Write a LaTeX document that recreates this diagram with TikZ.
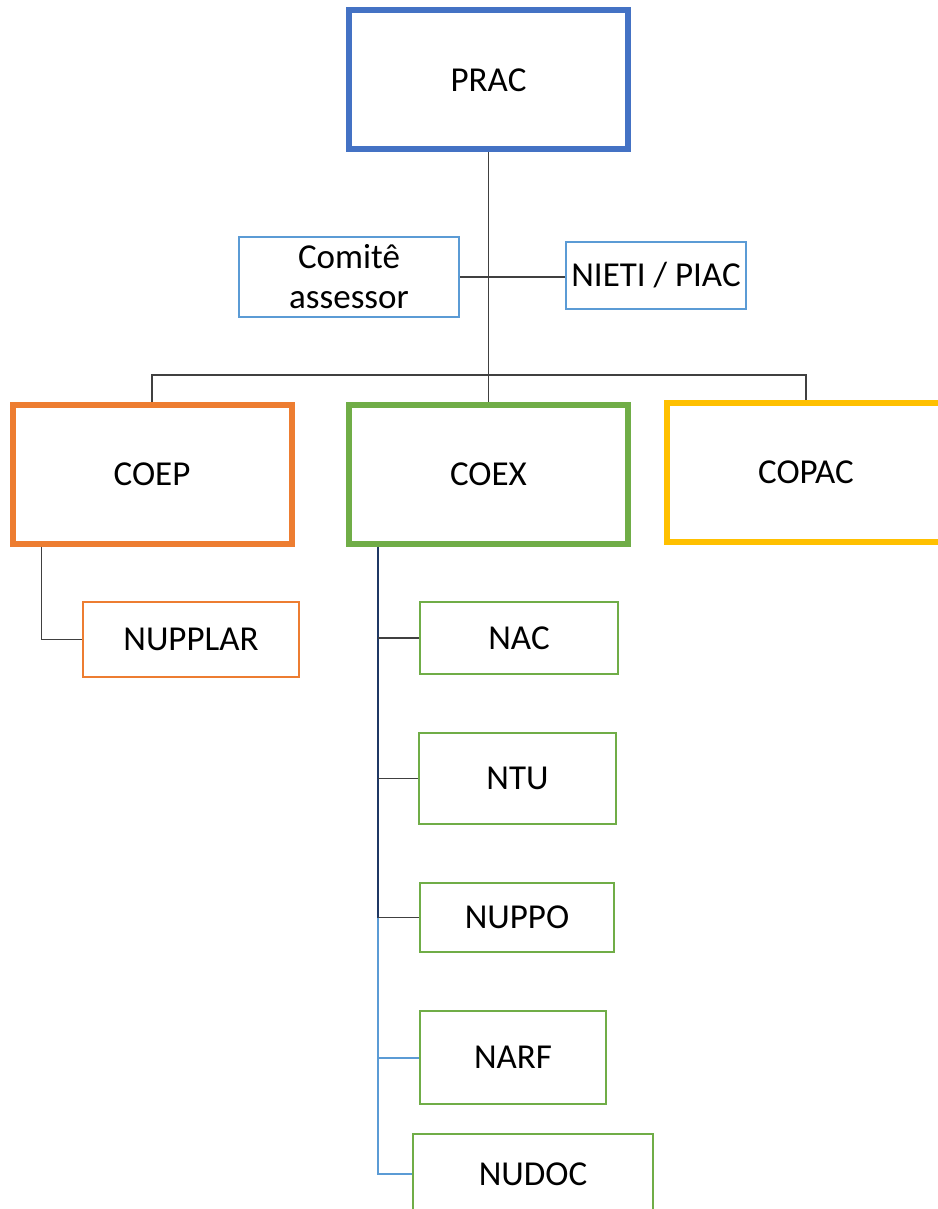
\documentclass[tikz,border=0pt]{standalone}
\usepackage{fontspec}
\setmainfont{Carlito}
\definecolor{pracblue}{HTML}{4472C4}
\definecolor{lightblue}{HTML}{5B9BD5}
\definecolor{coeporange}{HTML}{ED7D31}
\definecolor{coexgreen}{HTML}{70AD47}
\definecolor{copacyellow}{HTML}{FFC000}
\definecolor{navyline}{HTML}{1F3864}
\definecolor{linkgray}{HTML}{404040}
\begin{document}
\begin{tikzpicture}[x=1pt, y=-1pt,
    unit/.style={draw, rectangle, inner sep=0pt, align=center,
      font=\fontsize{35}{40}\selectfont},
    bigunit/.style={unit, line width=6pt, minimum width=279pt, minimum height=139pt},
    smallunit/.style={unit, line width=2pt},
    link/.style={draw=linkgray, line width=1.3pt}]
        \useasboundingbox (0, 0) rectangle (937, 1209);
        \node[bigunit, draw=pracblue] (PRAC) at (488.5, 80) {PRAC};
        \node[smallunit, draw=lightblue, minimum width=220pt, minimum height=80pt] (Comite) at (349, 277) {Comitê\\assessor};
        \node[smallunit, draw=lightblue, minimum width=180pt, minimum height=67pt] (NIETI) at (656, 275.5) {NIETI / PIAC};
        \node[bigunit, draw=coeporange] (COEP) at (152, 474) {COEP};
        \node[bigunit, draw=coexgreen] (COEX) at (488.5, 474) {COEX};
        \node[bigunit, draw=copacyellow] (COPAC) at (806, 472) {COPAC};
        \node[smallunit, draw=coeporange, minimum width=216pt, minimum height=75pt] (NUPPLAR) at (191, 639.5) {NUPPLAR};
        \node[smallunit, draw=coexgreen, minimum width=198pt, minimum height=72pt] (NAC) at (519, 638) {NAC};
        \node[smallunit, draw=coexgreen, minimum width=197pt, minimum height=91pt] (NTU) at (517.5, 778.5) {NTU};
        \node[smallunit, draw=coexgreen, minimum width=194pt, minimum height=69pt] (NUPPO) at (517, 917.5) {NUPPO};
        \node[smallunit, draw=coexgreen, minimum width=186pt, minimum height=93pt] (NARF) at (513, 1057.5) {NARF};
        \node[smallunit, draw=coexgreen, minimum width=240pt, minimum height=80pt] (NUDOC) at (533, 1174) {NUDOC};
        \coordinate (Bus) at (488.5, 375);
        \coordinate (CoexLine) at ([xshift=32pt]COEX.south west);
        \coordinate (CoexSplit) at (CoexLine |- NUPPO.west);
        \draw[link] (PRAC.south) -- (Bus);
        \draw[link] (Comite.east) -- (NIETI.west |- Comite.east);
        \draw[link] (COEP.north) |- (Bus) -| (COPAC.north);
        \draw[link] (Bus) -- (COEX.north);
        \draw[link] ([xshift=32pt]COEP.south west) |- (NUPPLAR.west);
        \draw[link, draw=navyline] (CoexLine) -- (CoexSplit);
        \draw[link] (CoexLine |- NAC.west) -- (NAC.west);
        \draw[link] (CoexLine |- NTU.west) -- (NTU.west);
        \draw[link] (CoexSplit) -- (NUPPO.west);
        \draw[link, draw=lightblue, line width=2pt] (CoexSplit) |- (NUDOC.west);
        \draw[link, draw=lightblue, line width=2pt] (CoexLine |- NARF.west) -- (NARF.west);
\end{tikzpicture}
\end{document}
